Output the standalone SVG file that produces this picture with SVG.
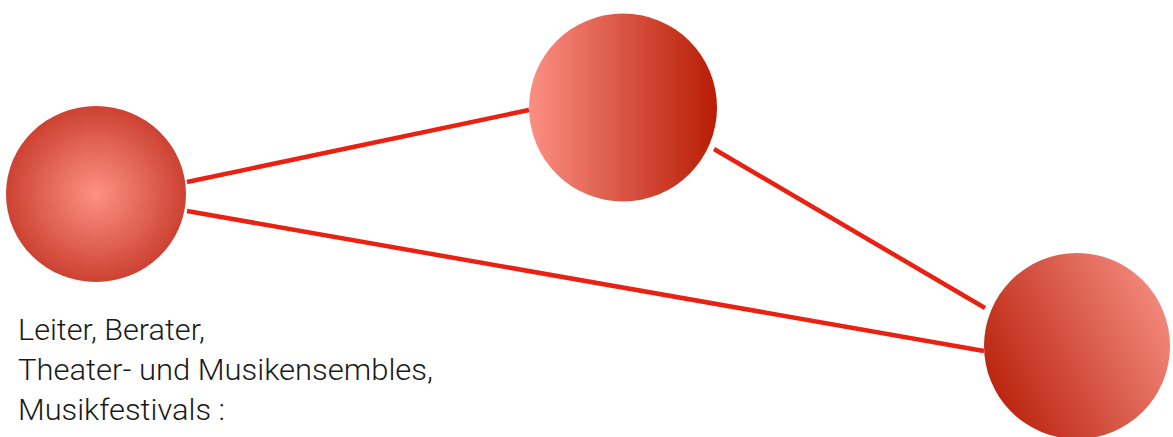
<svg xmlns="http://www.w3.org/2000/svg" width="1173" height="437" viewBox="0 0 1173 437">
  <defs>
    <radialGradient id="g1" cx="0.5" cy="0.5" r="0.5">
      <stop offset="0" stop-color="#fc9184"/>
      <stop offset="1" stop-color="#cd4232"/>
    </radialGradient>
    <linearGradient id="g2" x1="0" y1="0" x2="1" y2="0">
      <stop offset="0" stop-color="#fb8f83"/>
      <stop offset="1" stop-color="#b81c04"/>
    </linearGradient>
    <linearGradient id="g3" x1="0" y1="0.75" x2="1" y2="0.25">
      <stop offset="0" stop-color="#b9200a"/>
      <stop offset="1" stop-color="#f48c80"/>
    </linearGradient>
  </defs>
  <style>
    .conn { stroke: #ea2112; stroke-width: 4.5; fill: none; stroke-linecap: butt; }
    .lbl { font-family: "Roboto", "Liberation Sans", sans-serif; font-weight: 300; font-size: 30px; fill: #1a1a1a; }
  </style>
  <g id="connectors">
    <line class="conn" x1="187" y1="182" x2="529" y2="110"/>
    <line class="conn" x1="187" y1="211" x2="984" y2="351"/>
    <line class="conn" x1="714" y1="149" x2="985" y2="308"/>
  </g>
  <g id="node1">
    <ellipse cx="96" cy="194" rx="90" ry="88" fill="url(#g1)"/>
  </g>
  <g id="node2">
    <circle cx="623" cy="107.5" r="94" fill="url(#g2)"/>
  </g>
  <g id="node3">
    <circle cx="1077" cy="346" r="93" fill="url(#g3)"/>
  </g>
  <g id="label">
    <text class="lbl" x="18" y="340" textLength="187" lengthAdjust="spacingAndGlyphs">Leiter, Berater,</text>
    <text class="lbl" x="18" y="380" textLength="415" lengthAdjust="spacingAndGlyphs">Theater- und Musikensembles,</text>
    <text class="lbl" x="18" y="420" textLength="207" lengthAdjust="spacingAndGlyphs">Musikfestivals :</text>
  </g>
</svg>
